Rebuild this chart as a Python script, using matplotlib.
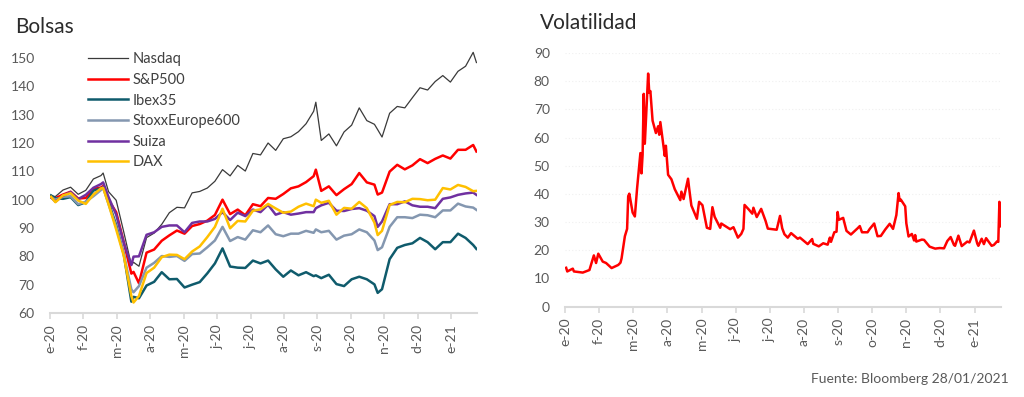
import numpy as np
import pandas as pd
import matplotlib
matplotlib.use('Agg')
import matplotlib.pyplot as plt
import matplotlib.dates as mdates

plt.rcParams['font.family'] = ['Lato', 'DejaVu Sans']

# Bolsas: indices rebased to 100 (01/01/2020)
fechas = ['2020-01-02', '2020-01-06', '2020-01-13', '2020-01-20', '2020-01-27',
          '2020-02-03', '2020-02-10', '2020-02-17', '2020-02-19', '2020-02-24',
          '2020-03-02', '2020-03-09', '2020-03-16', '2020-03-18', '2020-03-23', '2020-03-30',
          '2020-04-06', '2020-04-13', '2020-04-20', '2020-04-27',
          '2020-05-04', '2020-05-11', '2020-05-18', '2020-05-25',
          '2020-06-01', '2020-06-08', '2020-06-15', '2020-06-22', '2020-06-29',
          '2020-07-06', '2020-07-13', '2020-07-20', '2020-07-27',
          '2020-08-03', '2020-08-10', '2020-08-17', '2020-08-24', '2020-08-31',
          '2020-09-02', '2020-09-07', '2020-09-14', '2020-09-21', '2020-09-28',
          '2020-10-05', '2020-10-12', '2020-10-19', '2020-10-26', '2020-10-29',
          '2020-11-02', '2020-11-09', '2020-11-16', '2020-11-23', '2020-11-30',
          '2020-12-07', '2020-12-14', '2020-12-21', '2020-12-28',
          '2021-01-04', '2021-01-11', '2021-01-18', '2021-01-25', '2021-01-28']

nasdaq = [101.3, 101.1, 103.4, 104.4, 101.9, 103.3, 107.3, 108.5, 109.4, 102.8,
          99.8, 88.6, 76.9, 77.9, 76.5, 86.6, 88.2, 91.3, 95.4, 97.3,
          97.1, 102.4, 102.9, 104.1, 106.5, 110.6, 108.4, 112.1, 110.1,
          116.3, 115.8, 120.0, 117.4, 121.5, 122.2, 124.0, 126.8, 131.2,
          134.4, 120.9, 123.2, 119.0, 123.9, 126.3, 132.4, 127.9, 126.6, 124.7,
          122.1, 130.5, 132.9, 132.4, 136.0, 139.5, 138.7, 141.7, 143.8,
          141.5, 145.3, 147.1, 152.0, 148.4]

sp500 = [100.8, 100.5, 101.8, 102.8, 100.4, 100.6, 103.8, 104.3, 104.8, 99.8,
         95.6, 85.0, 73.9, 74.5, 70.5, 81.3, 82.4, 85.5, 87.4, 89.1,
         88.0, 90.7, 91.4, 92.6, 94.6, 100.0, 94.9, 96.5, 94.5,
         98.4, 97.7, 100.6, 100.3, 102.0, 104.0, 104.7, 106.2, 108.3,
         110.6, 103.1, 104.7, 101.6, 103.7, 105.5, 109.4, 106.1, 105.3, 101.8,
         102.5, 109.9, 112.3, 110.7, 112.1, 114.3, 112.9, 114.4, 115.6,
         114.5, 117.6, 117.6, 119.3, 117.0]

ibex35 = [101.5, 100.5, 100.3, 100.9, 98.1, 99.1, 103.2, 104.0, 104.3, 99.1,
          91.1, 80.7, 64.0, 65.7, 65.2, 69.7, 71.0, 74.4, 71.9, 72.0,
          69.0, 70.0, 70.9, 74.0, 77.5, 82.8, 76.4, 76.0, 75.9,
          78.5, 77.5, 78.5, 75.4, 72.8, 75.0, 73.3, 74.4, 73.0,
          73.3, 72.3, 73.5, 70.2, 69.5, 71.9, 72.8, 71.9, 70.1, 67.1,
          68.4, 79.0, 83.0, 84.0, 84.6, 86.5, 85.0, 82.5, 85.0,
          85.0, 88.0, 86.5, 84.0, 82.6]

stoxx600 = [100.8, 100.0, 101.0, 101.2, 98.4, 99.3, 101.2, 103.4, 104.3, 98.4,
            90.4, 80.8, 68.3, 67.3, 69.5, 76.0, 77.7, 80.1, 79.8, 80.1,
            78.4, 80.8, 81.0, 83.2, 85.6, 90.4, 85.4, 86.8, 85.9,
            89.2, 88.5, 90.9, 87.8, 87.1, 88.0, 88.0, 89.0, 88.3,
            89.5, 88.5, 89.0, 85.9, 87.3, 87.8, 89.5, 88.5, 85.6, 82.2,
            83.2, 90.4, 93.8, 93.8, 93.5, 94.7, 94.5, 93.8, 96.2,
            96.2, 98.6, 97.6, 97.2, 96.4]

suiza = [100.8, 99.3, 101.4, 102.7, 100.2, 101.7, 104.2, 105.5, 106.1, 100.9,
         94.7, 84.8, 76.9, 79.9, 80.0, 87.6, 88.5, 90.4, 90.9, 90.9,
         88.5, 91.8, 92.3, 92.3, 93.2, 95.6, 92.8, 95.4, 94.2,
         96.5, 95.6, 98.2, 94.7, 95.6, 94.7, 95.1, 95.6, 95.6,
         97.0, 98.0, 98.9, 96.1, 96.0, 96.7, 97.0, 96.1, 94.2, 90.4,
         92.3, 98.4, 98.4, 99.4, 98.0, 97.5, 97.5, 97.0, 100.3,
         100.8, 101.7, 102.2, 102.5, 101.7]

dax = [101.0, 99.1, 101.5, 102.3, 99.7, 98.5, 101.8, 104.0, 104.1, 98.4,
       89.5, 80.2, 66.0, 63.7, 66.0, 74.1, 76.0, 79.7, 80.6, 80.5,
       79.0, 81.7, 83.5, 86.8, 90.4, 96.8, 89.9, 92.5, 92.3,
       96.1, 96.6, 98.5, 96.9, 95.4, 95.8, 97.5, 98.6, 97.7,
       100.0, 98.9, 99.6, 94.7, 97.1, 96.8, 99.2, 97.0, 91.9, 87.5,
       89.0, 98.1, 99.2, 99.1, 100.3, 100.2, 99.8, 100.0, 104.1,
       103.6, 105.2, 104.5, 103.0, 103.1]

series = ['Nasdaq', 'S&P500', 'Ibex35', 'StoxxEurope600', 'Suiza', 'DAX']
valores = [nasdaq, sp500, ibex35, stoxx600, suiza, dax]
colores = ['#3a3a3a', '#ff0000', '#0f5b6c', '#8497b0', '#7030a0', '#ffc000']
grosores = [0.9, 1.8, 1.8, 1.8, 1.8, 1.8]

# Volatilidad (VIX)
fechas_vix = ['2020-01-02', '2020-01-03', '2020-01-08', '2020-01-09', '2020-01-17', '2020-01-23',
              '2020-01-27', '2020-01-29', '2020-01-31', '2020-02-04', '2020-02-07', '2020-02-12',
              '2020-02-18', '2020-02-20', '2020-02-21', '2020-02-24', '2020-02-26', '2020-02-27',
              '2020-02-28', '2020-03-02', '2020-03-04', '2020-03-06', '2020-03-09', '2020-03-10',
              '2020-03-11', '2020-03-12', '2020-03-13', '2020-03-16', '2020-03-17', '2020-03-18',
              '2020-03-20', '2020-03-23', '2020-03-25', '2020-03-26', '2020-03-27', '2020-03-31',
              '2020-04-01', '2020-04-03', '2020-04-06', '2020-04-09', '2020-04-14', '2020-04-15',
              '2020-04-17', '2020-04-21', '2020-04-22', '2020-04-24', '2020-04-29', '2020-05-01',
              '2020-05-04', '2020-05-08', '2020-05-11', '2020-05-13', '2020-05-15', '2020-05-20',
              '2020-05-21', '2020-05-29', '2020-06-01', '2020-06-05', '2020-06-08', '2020-06-10',
              '2020-06-11', '2020-06-15', '2020-06-18', '2020-06-19', '2020-06-22', '2020-06-26',
              '2020-06-30', '2020-07-02', '2020-07-10', '2020-07-13', '2020-07-15', '2020-07-17',
              '2020-07-20', '2020-07-23', '2020-07-29', '2020-07-31', '2020-08-07', '2020-08-11',
              '2020-08-12', '2020-08-17', '2020-08-21', '2020-08-25', '2020-08-27', '2020-08-28',
              '2020-08-31', '2020-09-02', '2020-09-03', '2020-09-04', '2020-09-08', '2020-09-11',
              '2020-09-15', '2020-09-21', '2020-09-23', '2020-09-25', '2020-09-30', '2020-10-02',
              '2020-10-06', '2020-10-09', '2020-10-12', '2020-10-16', '2020-10-20', '2020-10-23',
              '2020-10-26', '2020-10-28', '2020-10-29', '2020-10-30', '2020-11-03', '2020-11-04',
              '2020-11-06', '2020-11-09', '2020-11-11', '2020-11-12', '2020-11-13', '2020-11-18',
              '2020-11-20', '2020-11-25', '2020-11-30', '2020-12-04', '2020-12-08', '2020-12-11',
              '2020-12-14', '2020-12-17', '2020-12-18', '2020-12-21', '2020-12-24', '2020-12-29',
              '2020-12-31', '2021-01-04', '2021-01-07', '2021-01-08', '2021-01-11', '2021-01-13',
              '2021-01-15', '2021-01-20', '2021-01-22', '2021-01-25', '2021-01-26', '2021-01-27',
              '2021-01-28']
vix = [13.8, 12.5, 13.5, 12.5, 12.1, 13.0,
       18.2, 15.5, 18.8, 16.0, 15.5, 13.7,
       14.8, 15.6, 17.1, 25.0, 27.6, 39.2,
       40.1, 33.4, 32.0, 41.9, 54.5, 47.3,
       53.9, 75.5, 57.8, 82.7, 75.9, 76.5,
       66.0, 61.6, 64.0, 61.0, 65.5, 53.5,
       57.1, 46.8, 45.2, 41.7, 37.8, 40.8,
       38.2, 45.4, 42.0, 35.9, 31.2, 37.2,
       36.0, 28.0, 27.6, 35.3, 31.9, 28.0,
       29.5, 27.5, 28.2, 24.5, 25.8, 27.6,
       36.1, 34.4, 33.0, 35.1, 31.8, 34.7,
       30.4, 27.7, 27.3, 32.2, 27.8, 25.7,
       24.5, 26.1, 24.1, 24.5, 22.2, 24.0,
       22.3, 21.4, 22.5, 22.0, 24.5, 23.0,
       26.4, 26.6, 33.6, 30.8, 31.5, 26.9,
       25.6, 27.8, 28.6, 26.4, 26.4, 27.6,
       29.5, 25.0, 25.1, 27.4, 29.4, 27.6,
       32.5, 40.3, 37.6, 38.0, 35.6, 29.6,
       24.9, 25.8, 23.5, 25.4, 23.1, 23.8,
       23.7, 21.3, 20.6, 20.8, 20.7, 23.3,
       24.7, 21.9, 21.6, 25.2, 21.5, 23.1,
       22.8, 27.0, 22.4, 21.6, 24.1, 22.2,
       24.3, 21.6, 21.9, 23.2, 23.0, 37.2,
       28.5]

meses = ['e-20', 'f-20', 'm-20', 'a-20', 'm-20', 'j-20', 'j-20',
         'a-20', 's-20', 'o-20', 'n-20', 'd-20', 'e-21']

gris = '#595959'
fig = plt.figure(figsize=(10.24, 3.97), dpi=100)
ax1 = fig.add_axes([0.0488, 0.2116, 0.417, 0.6637])
ax2 = fig.add_axes([0.5518, 0.2275, 0.4258, 0.639])

x0 = mdates.date2num(pd.Timestamp('2020-01-01'))
x1 = mdates.date2num(pd.Timestamp('2021-01-28'))
ticks = [x0 + 30.8 * k for k in range(len(meses))]


def estilo(ax):
    for s in ['top', 'right', 'left']:
        ax.spines[s].set_visible(False)
    ax.spines['bottom'].set_color('#d9d9d9')
    ax.spines['bottom'].set_linewidth(1.5)
    ax.set_xlim(x0, x1 + 0.5)
    ax.set_xticks(ticks)
    ax.set_xticklabels(meses, rotation=90, color=gris, fontsize=10)
    ax.tick_params(axis='x', length=4, width=1.2, color='#d9d9d9', pad=4)
    ax.tick_params(axis='y', length=0, pad=11, labelcolor=gris, labelsize=10)


fx = pd.to_datetime(fechas)
for nombre, v, c, w in zip(series, valores, colores, grosores):
    ax1.plot(fx, v, color=c, lw=w, label=nombre)
estilo(ax1)
ax1.set_ylim(60, 153)
ax1.set_yticks(range(60, 151, 10))
fig.legend(loc='upper left', bbox_to_anchor=(0.0859, 0.868), frameon=False,
           fontsize=10.5, handlelength=2.75, handletextpad=0.3, labelspacing=0.45,
           borderpad=0, borderaxespad=0, labelcolor='#404040')

ax2.yaxis.grid(True, color='#f0f0f0', lw=0.8, ls=(0, (1, 2)))
ax2.set_axisbelow(True)
ax2.plot(pd.to_datetime(fechas_vix), vix, color='#ff0000', lw=1.8)
estilo(ax2)
ax2.set_ylim(0, 90)
ax2.set_yticks(range(0, 91, 10))

fig.text(0.0146, 0.917, 'Bolsas', fontsize=15, color='#2b2b2b')
fig.text(0.527, 0.927, 'Volatilidad', fontsize=15, color='#2b2b2b')
fig.text(0.985, 0.035, 'Fuente: Bloomberg 28/01/2021', fontsize=10, color=gris, ha='right')

fig.savefig('out.png', dpi=100)
